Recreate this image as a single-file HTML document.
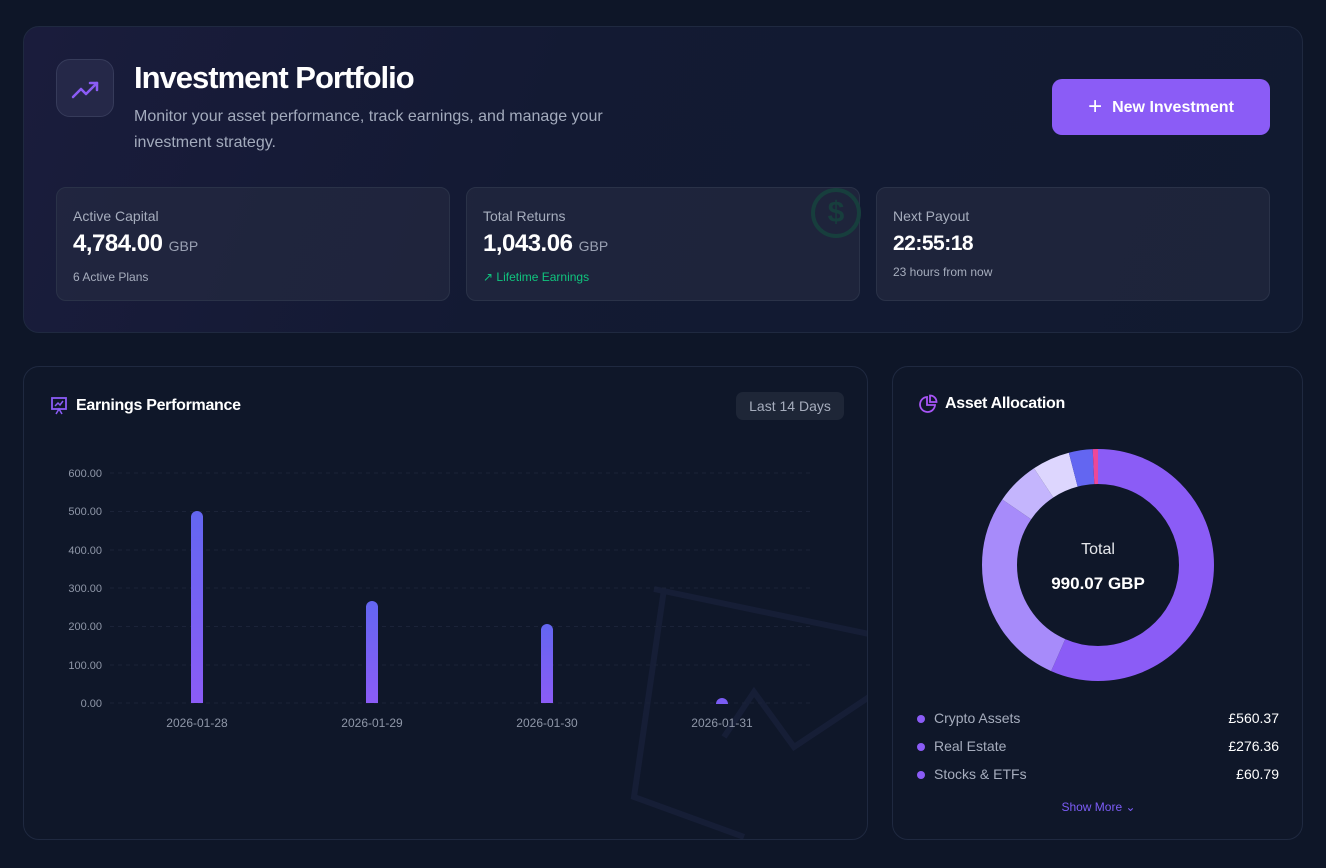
<!DOCTYPE html>
<html><head><meta charset="utf-8"><style>
*{box-sizing:border-box;margin:0;padding:0}
body{width:1326px;height:868px;background:#0e1628;font-family:"Liberation Sans",sans-serif;color:#fff;position:relative;overflow:hidden}
.card{position:absolute;border:1px solid #1f2940;border-radius:16px}
.top{left:23px;top:26px;width:1280px;height:307px;background:linear-gradient(110deg,#1a1c3c 0%,#131a33 40%,#111a30 100%)}
.stat{position:absolute;top:160px;height:114px;border:1px solid #2a3248;border-radius:10px;background:rgba(40,46,68,.55)}
.stat .l{position:absolute;left:16px;top:20px;font-size:14px;color:#a6adbd}
.stat .v{position:absolute;left:16px;top:42px;font-size:24px;font-weight:bold;letter-spacing:-.5px}
.stat .v span{font-size:14px;font-weight:normal;color:#9aa1b3;letter-spacing:0}
.stat .s{position:absolute;left:16px;top:82px;font-size:12px;color:#a6adbd}
.lbl{font-size:11px;fill:#8f97a8;font-family:"Liberation Sans",sans-serif}
</style></head><body>
<div class="card top">
 <div style="position:absolute;left:32px;top:32px;width:58px;height:58px;border:1px solid #363b5a;border-radius:14px;background:#252848">
  <svg width="58" height="58" viewBox="0 0 58 58"><polyline points="16,37 24,29 29,34 40,23" fill="none" stroke="#8b5cf6" stroke-width="2.5" stroke-linecap="round" stroke-linejoin="round"/><polyline points="33,23 40,23 40,30" fill="none" stroke="#8b5cf6" stroke-width="2.5" stroke-linecap="round" stroke-linejoin="round"/></svg>
 </div>
 <div style="position:absolute;left:110px;top:33px;font-size:31px;font-weight:bold;letter-spacing:-1px">Investment Portfolio</div>
 <div style="position:absolute;left:110px;top:77px;width:540px;font-size:16px;line-height:26px;color:#a3abbd">Monitor your asset performance, track earnings, and manage your investment strategy.</div>
 <div style="position:absolute;left:1028px;top:52px;width:218px;height:56px;border-radius:10px;background:#8b5cf6;font-size:16px;font-weight:bold;line-height:56px;text-align:center"><span style="font-size:24px;font-weight:normal;vertical-align:-2px;margin-right:10px">+</span>New Investment</div>
 <div class="stat" style="left:32px;width:394px"><div class="l">Active Capital</div><div class="v">4,784.00 <span>GBP</span></div><div class="s">6 Active Plans</div></div>
 <div class="stat" style="left:442px;width:394px"><div class="l">Total Returns</div><div class="v">1,043.06 <span>GBP</span></div><div class="s" style="color:#10c47e">↗ Lifetime Earnings</div>
  <div style="position:absolute;left:344px;top:0;width:50px;height:50px;border:4px solid #173e3d;border-radius:50%;color:#173e3d;font-size:30px;font-weight:bold;text-align:center;line-height:42px">$</div></div>
 <div class="stat" style="left:852px;width:394px"><div class="l">Next Payout</div><div class="v" style="font-size:21px;top:44px">22:55:18</div><div class="s" style="top:77px">23 hours from now</div></div>
</div>

<div class="card" style="left:23px;top:366px;width:845px;height:474px;background:#0f1729;overflow:hidden">
 <svg width="845" height="474" style="position:absolute;left:0;top:0">
  <g stroke="#161e36" stroke-width="6" fill="none"><path d="M630 222 L850 268"/><path d="M640 222 L610 430 L720 470"/><path d="M700 370 L730 325 L770 380 L845 330"/></g>
 </svg>
 <svg width="20" height="20" viewBox="0 0 20 20" style="position:absolute;left:26px;top:29px"><rect x="2" y="2" width="14" height="11" fill="none" stroke="#8b5cf6" stroke-width="1.8"/><polyline points="5,10 8,7 10,9 13,5" fill="none" stroke="#8b5cf6" stroke-width="1.5"/><path d="M6 18 L9 13 L12 18" fill="none" stroke="#8b5cf6" stroke-width="1.5"/></svg>
 <div style="position:absolute;left:52px;top:30px;font-size:16px;font-weight:bold;letter-spacing:-.3px">Earnings Performance</div>
 <div style="position:absolute;left:712px;top:25px;width:108px;height:28px;border-radius:7px;background:#1e2637;color:#a6adbd;font-size:14px;line-height:28px;text-align:center">Last 14 Days</div>
</div>
<svg width="868" height="868" style="position:absolute;left:0;top:0">
 <defs><linearGradient id="g" x1="0" y1="0" x2="0" y2="1"><stop offset="0" stop-color="#6366f1"/><stop offset="1" stop-color="#8b5cf6"/></linearGradient></defs>
 <g stroke="#1b2338" stroke-dasharray="4 4" stroke-width="1">
  <line x1="110" x2="810" y1="473" y2="473"/><line x1="110" x2="810" y1="511.5" y2="511.5"/><line x1="110" x2="810" y1="550" y2="550"/><line x1="110" x2="810" y1="588" y2="588"/><line x1="110" x2="810" y1="626.5" y2="626.5"/><line x1="110" x2="810" y1="665" y2="665"/><line x1="110" x2="810" y1="703" y2="703"/>
 </g>
 <g class="lbl" text-anchor="end">
  <text x="102" y="477">600.00</text><text x="102" y="515">500.00</text><text x="102" y="554">400.00</text><text x="102" y="592">300.00</text><text x="102" y="630">200.00</text><text x="102" y="669">100.00</text><text x="102" y="707">0.00</text>
 </g>
 <g class="lbl" text-anchor="middle" style="font-size:12px">
  <text x="197" y="727">2026-01-28</text><text x="372" y="727">2026-01-29</text><text x="547" y="727">2026-01-30</text><text x="722" y="727">2026-01-31</text>
 </g>
 <g fill="url(#g)">
  <path d="M191 703 V517 a6 6 0 0 1 12 0 V703Z"/>
  <path d="M366 703 V607 a6 6 0 0 1 12 0 V703Z"/>
  <path d="M541 703 V630 a6 6 0 0 1 12 0 V703Z"/>
  <path d="M716 704 a6 6 0 0 1 12 0 Z" fill="#7a5cf3"/>
 </g>
</svg>

<div class="card" style="left:892px;top:366px;width:411px;height:474px;background:#0f1729">
 <svg width="20" height="20" viewBox="0 0 20 20" style="position:absolute;left:25px;top:27px"><path d="M9 3 A7.5 7.5 0 1 0 17 11 H9 Z" fill="none" stroke="#a855f7" stroke-width="1.8"/><path d="M12 1.5 A6.5 6.5 0 0 1 18.5 8 H12 Z" fill="none" stroke="#a855f7" stroke-width="1.8"/></svg>
 <div style="position:absolute;left:52px;top:28px;font-size:16px;font-weight:bold;letter-spacing:-.3px">Asset Allocation</div>
 <svg width="411" height="320" style="position:absolute;left:0;top:0">
  <g transform="translate(205,198) rotate(-90)" fill="none" stroke-width="35">
   <circle r="98.5" stroke="#8b5cf6" stroke-dasharray="350.3 1000"/>
   <circle r="98.5" stroke="#a78bfa" stroke-dasharray="0 350.3 172.8 1000"/>
   <circle r="98.5" stroke="#c4b5fd" stroke-dasharray="0 523.1 38 1000"/>
   <circle r="98.5" stroke="#ddd6fe" stroke-dasharray="0 561.1 32.5 1000"/>
   <circle r="98.5" stroke="#6366f1" stroke-dasharray="0 593.6 20.5 1000"/>
   <circle r="98.5" stroke="#ec4899" stroke-dasharray="0 614.1 4.8 1000"/>
  </g>
  <text x="205" y="187" text-anchor="middle" font-size="16" fill="#e5e7eb" font-family="Liberation Sans">Total</text>
  <text x="205" y="222" text-anchor="middle" font-size="17" font-weight="bold" fill="#fff" font-family="Liberation Sans">990.07 GBP</text>
 </svg>
 <div style="position:absolute;left:24px;top:337px;width:362px;font-size:14px;line-height:28px;color:#a6adbd">
  <div><span style="display:inline-block;width:8px;height:8px;border-radius:50%;background:#8b5cf6;margin-right:9px"></span>Crypto Assets<span style="float:right;color:#fff">£560.37</span></div>
  <div><span style="display:inline-block;width:8px;height:8px;border-radius:50%;background:#8b5cf6;margin-right:9px"></span>Real Estate<span style="float:right;color:#fff">£276.36</span></div>
  <div><span style="display:inline-block;width:8px;height:8px;border-radius:50%;background:#8b5cf6;margin-right:9px"></span>Stocks &amp; ETFs<span style="float:right;color:#fff">£60.79</span></div>
 </div>
 <div style="position:absolute;left:0;width:411px;top:433px;text-align:center;font-size:12px;color:#7c5cf6">Show More ⌄</div>
</div>
</body></html>
